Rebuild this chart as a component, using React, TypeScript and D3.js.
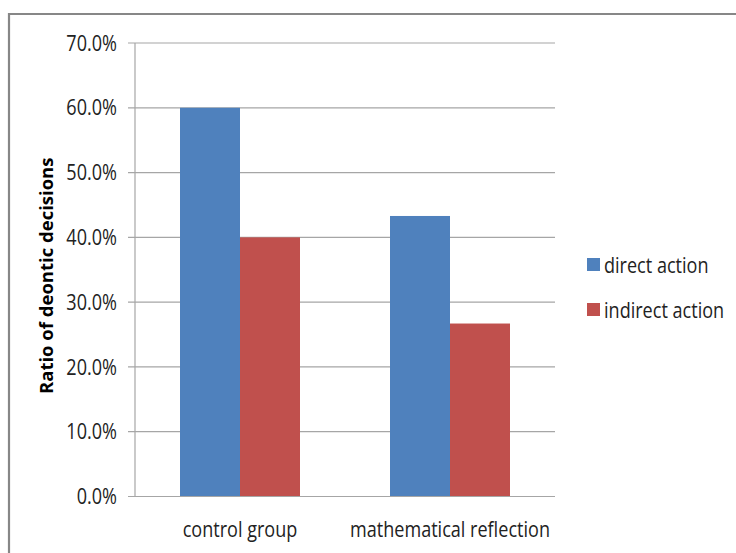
import React, { useEffect, useRef } from 'react';
import * as d3 from 'd3';

const categories = ['control group', 'mathematical reflection'];
const seriesNames = ['direct action', 'indirect action'];
const directAction = [0.6, 0.433];
const indirectAction = [0.4, 0.267];
const yTicks = [0, 0.1, 0.2, 0.3, 0.4, 0.5, 0.6, 0.7];
const colors = ['#4F81BD', '#C0504D'];

const FONT = "'Open Sans', sans-serif";
// reference uses a narrow face, so squeeze the text horizontally
const SQUEEZE = 0.86;

const App = () => {
    const svgRef = useRef<SVGSVGElement | null>(null);
    const width = 736;
    const height = 553;

    useEffect(() => {
        if (!svgRef.current) return;
        const svg = d3.select(svgRef.current);
        svg.selectAll('*').remove();

        const plot = { left: 135, right: 555, top: 43, bottom: 496.5 };

        // outer chart frame (runs off the right and bottom)
        svg.append('path')
            .attr('d', `M9,${height + 5} L9,14 L${width + 5},14`)
            .attr('fill', 'none')
            .attr('stroke', '#878787')
            .attr('stroke-width', 2.2);

        const x0 = d3.scaleBand().domain(categories).range([plot.left, plot.right]).paddingInner(0).paddingOuter(0);
        const x1 = d3.scaleBand().domain(seriesNames).range([0, x0.bandwidth()]).paddingInner(0).paddingOuter(0.75);
        const y = d3.scaleLinear().domain([0, 0.7]).range([plot.bottom, plot.top]);

        // gridlines
        svg.append('g')
            .selectAll('line')
            .data(yTicks)
            .enter()
            .append('line')
            .attr('x1', plot.left - 7)
            .attr('x2', plot.right)
            .attr('y1', (d) => y(d))
            .attr('y2', (d) => y(d))
            .attr('stroke', '#a6a6a6')
            .attr('stroke-width', 1.2);

        // y axis line
        svg.append('line')
            .attr('x1', plot.left).attr('x2', plot.left)
            .attr('y1', plot.top).attr('y2', plot.bottom)
            .attr('stroke', '#a6a6a6')
            .attr('stroke-width', 1.2);

        // y tick labels
        svg.append('g')
            .selectAll('text')
            .data(yTicks)
            .enter()
            .append('text')
            .attr('transform', (d) => `translate(${plot.left - 18},${y(d)}) scale(${SQUEEZE},1)`)
            .attr('dy', '0.36em')
            .attr('text-anchor', 'end')
            .attr('font-family', FONT)
            .attr('font-size', 21)
            .attr('fill', '#222')
            .text((d) => d3.format('.1%')(d));

        // bars
        const rows = categories.map((c, i) => ({ cat: c, values: [directAction[i], indirectAction[i]] }));
        const groups = svg.append('g')
            .selectAll('g')
            .data(rows)
            .enter()
            .append('g')
            .attr('transform', (d) => `translate(${x0(d.cat)},0)`);

        groups.selectAll('rect')
            .data((d) => d.values.map((v, j) => ({ key: seriesNames[j], v, j })))
            .enter()
            .append('rect')
            .attr('x', (d) => x1(d.key)!)
            .attr('width', x1.bandwidth())
            .attr('y', (d) => y(d.v))
            .attr('height', (d) => y(0) - y(d.v))
            .attr('fill', (d) => colors[d.j]);

        // baseline on top of bars
        svg.append('line')
            .attr('x1', plot.left).attr('x2', plot.right)
            .attr('y1', plot.bottom).attr('y2', plot.bottom)
            .attr('stroke', '#a6a6a6')
            .attr('stroke-width', 1.2);

        // category labels
        svg.append('g')
            .selectAll('text')
            .data(categories)
            .enter()
            .append('text')
            .attr('transform', (d) => `translate(${x0(d)! + x0.bandwidth() / 2},529) scale(${SQUEEZE},1)`)
            .attr('dy', '0.36em')
            .attr('text-anchor', 'middle')
            .attr('font-family', FONT)
            .attr('font-size', 21)
            .attr('fill', '#222')
            .text((d) => d);

        // y axis title
        svg.append('text')
            .attr('transform', `translate(46,${(plot.top + plot.bottom) / 2 + 6}) rotate(-90)`)
            .attr('dy', '0.36em')
            .attr('text-anchor', 'middle')
            .attr('font-family', FONT)
            .attr('font-weight', 'bold')
            .attr('font-size', 18.5)
            .attr('fill', '#000')
            .text('Ratio of deontic decisions');

        // legend
        const legend = svg.append('g')
            .selectAll('g')
            .data(seriesNames)
            .enter()
            .append('g')
            .attr('transform', (d, i) => `translate(587,${265 + i * 45})`);

        legend.append('rect')
            .attr('x', 0).attr('y', -7)
            .attr('width', 13).attr('height', 13)
            .attr('fill', (d, i) => colors[i]);

        legend.append('text')
            .attr('transform', `translate(17,0) scale(${SQUEEZE},1)`)
            .attr('dy', '0.36em')
            .attr('font-family', FONT)
            .attr('font-size', 21)
            .attr('fill', '#222')
            .text((d) => d);
    }, []);

    return (
        <svg
            ref={svgRef}
            width={width}
            height={height}
            style={{ position: 'absolute', left: 0, top: 0, background: '#fff' }}
        ></svg>
    );
};

export default App;
